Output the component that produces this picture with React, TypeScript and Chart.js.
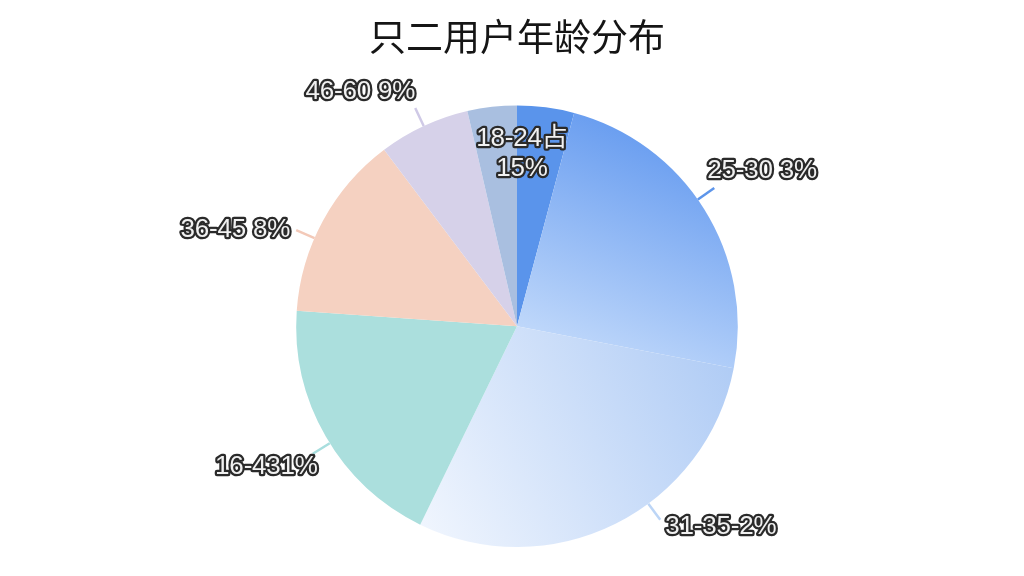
import React, { useEffect, useRef } from "react";
import { Chart, registerables } from "chart.js";

Chart.register(...registerables);

const TITLE = "只二用户年龄分布";
const categories = ["18-24占\n15%", "25-30 3%", "31-35-2%", "16-431%", "36-45 8%", "46-60 9%", ""];
const values = [15, 86, 105, 68, 49, 24, 13];
const solidColors = ["#5a94eb", "#8fb8f3", "#d8e6fb", "#abdfdd", "#f5d1c1", "#d6d1e9", "#a9bfe0"];
const lineColors = ["#5a94eb", "#5d95ea", "#bcd5f6", "#a8dede", "#f3c9b8", "#cfc9e6", "#a9bfe0"];

// label layout: leader-line angle shift (deg) and text offset from the line end (px)
const labelAngleShift = [0, -3, -10, -2, -5, 0, 0];
const labelTextOffset: [number, number][] = [
  [0, 0],
  [-7, -17],
  [5, 7],
  [5, 13],
  [-6, 0],
  [0, -16],
  [0, 0],
];

const labelPlugin = {
  id: "outlinedLabels",
  afterDatasetsDraw(chart: any) {
    const ctx = chart.ctx;
    const meta = chart.getDatasetMeta(0);
    ctx.save();
    ctx.font = '26px "Liberation Sans", "Noto Sans CJK SC", sans-serif';
    try { (ctx as any).letterSpacing = "-0.2px"; } catch (e) {}
    ctx.lineJoin = "round";
    meta.data.forEach((arc: any, i: number) => {
      const text = categories[i];
      if (!text) return;
      const { x, y, startAngle, endAngle, outerRadius } = arc.getProps(
        ["x", "y", "startAngle", "endAngle", "outerRadius"],
        true
      );
      const drawText = (t: string, tx: number, ty: number) => {
        ctx.strokeStyle = "#2a2a2a";
        ctx.lineWidth = 4.5;
        ctx.strokeText(t, tx, ty);
        ctx.fillStyle = "#f1f1f1";
        ctx.fillText(t, tx, ty);
      };
      if (text.includes("\n")) {
        const lines = text.split("\n");
        const ax = x + Math.cos(startAngle) * outerRadius * 0.8 + 5;
        const ay = y + Math.sin(startAngle) * outerRadius * 0.8 + 4;
        ctx.textAlign = "center";
        ctx.textBaseline = "middle";
        const lh = 30;
        lines.forEach((l, k) => {
          drawText(l, ax, ay + (k - (lines.length - 1) / 2) * lh);
        });
        return;
      }
      const mid = (startAngle + endAngle) / 2 + (labelAngleShift[i] * Math.PI) / 180;
      const dx = Math.cos(mid);
      const dy = Math.sin(mid);
      const sx = x + dx * outerRadius;
      const sy = y + dy * outerRadius;
      const ex = x + dx * (outerRadius + 20);
      const ey = y + dy * (outerRadius + 20);
      ctx.strokeStyle = lineColors[i];
      ctx.lineWidth = 2.5;
      ctx.beginPath();
      ctx.moveTo(sx, sy);
      ctx.lineTo(ex, ey);
      ctx.stroke();
      ctx.textBaseline = "middle";
      ctx.textAlign = dx >= 0 ? "left" : "right";
      const off = labelTextOffset[i];
      drawText(text, ex + off[0], ey + off[1]);
    });
    ctx.restore();
  },
};

function bg(context: any) {
  const i = context.dataIndex;
  const chart = context.chart;
  const area = chart.chartArea;
  if (!area) return solidColors[i];
  const c = chart.ctx;
  const cx = (area.left + area.right) / 2;
  const cy = (area.top + area.bottom) / 2;
  const r = Math.min(area.right - area.left, area.bottom - area.top) / 2;
  if (i === 1) {
    const g = c.createLinearGradient(cx + 0.35 * r, cy - 0.95 * r, cx - 0.05 * r, cy + 0.05 * r);
    g.addColorStop(0, "#6a9ef0");
    g.addColorStop(1, "#c4dbfb");
    return g;
  }
  if (i === 2) {
    const g = c.createLinearGradient(cx + 0.98 * r, cy + 0.2 * r, cx - 0.45 * r, cy + 0.95 * r);
    g.addColorStop(0, "#b0ccf5");
    g.addColorStop(1, "#f1f6fe");
    return g;
  }
  return solidColors[i];
}

export default function App() {
  const ref = useRef<HTMLCanvasElement | null>(null);
  useEffect(() => {
    document.body.style.margin = "0";
    const chart = new Chart(ref.current as HTMLCanvasElement, {
      type: "pie",
      data: {
        labels: categories,
        datasets: [
          {
            data: values,
            backgroundColor: bg as any,
            borderWidth: 0,
            hoverOffset: 0,
            offset: 0,
          } as any,
        ],
      },
      plugins: [labelPlugin],
      options: {
        animation: false,
        responsive: false,
        devicePixelRatio: 1,
        layout: { padding: { top: 0, bottom: 29, left: 10, right: 0 } },
        plugins: {
          legend: { display: false },
          tooltip: { enabled: false },
          title: {
            display: true,
            text: TITLE,
            color: "#151515",
            font: { family: '"Noto Sans CJK SC", sans-serif', size: 37, weight: "normal" },
            padding: { top: 15, bottom: 46 },
          },
        },
      } as any,
    });
    return () => chart.destroy();
  }, []);
  return (
    <div style={{ width: 1024, height: 576, background: "#ffffff" }}>
      <canvas ref={ref} width={1024} height={576} />
    </div>
  );
}
